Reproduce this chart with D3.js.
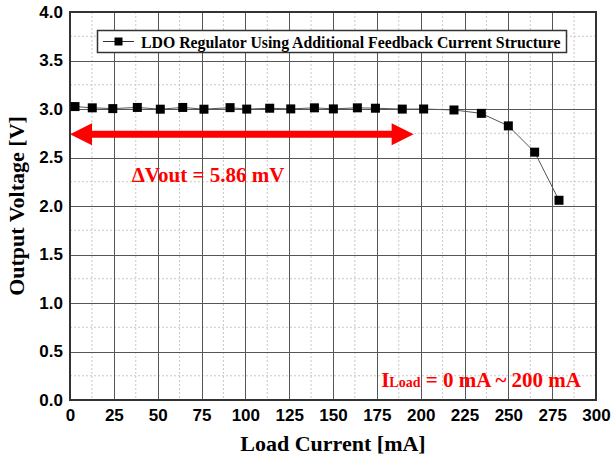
<!DOCTYPE html>
<html><head><meta charset="utf-8">
<script src="https://cdn.jsdelivr.net/npm/d3@7"></script>
<style>body{margin:0;background:#fff}svg{display:block}</style>
</head><body>
<svg id="c" width="611" height="460"></svg>
<script>
const loadCurrent = [2.85, 12.7, 24.4, 38.4, 51.5, 64.3, 76.4, 91.3, 100.8, 113.9, 125.9, 139.4, 150.2, 163.9, 174.2, 189.5, 201.7, 219.0, 234.6, 250.0, 265.0, 278.9];
const outputVoltage = [3.025, 3.012, 3.004, 3.016, 2.998, 3.016, 2.998, 3.014, 2.999, 3.008, 3.001, 3.012, 3.001, 3.012, 3.008, 2.999, 3.000, 2.990, 2.955, 2.826, 2.555, 2.059];
const xTicks = [0, 25, 50, 75, 100, 125, 150, 175, 200, 225, 250, 275, 300];
const yTicks = [0, 0.5, 1.0, 1.5, 2.0, 2.5, 3.0, 3.5, 4.0];
const seriesName = "LDO Regulator Using Additional Feedback Current Structure";
const arrowRange = [0, 196];
const arrowLevel = 2.74;

const svg = d3.select("#c");
const L = 70, R = 596, T = 12, B = 400;
const x = d3.scaleLinear().domain([0, 300]).range([L, R]);
const y = d3.scaleLinear().domain([0, 4]).range([B, T]);

// minor grid
const g = svg.append("g");
const xMinor = d3.range(12.5, 300, 25);
const yMinor = d3.range(0.25, 4, 0.5);
g.selectAll(".xm").data(xMinor).join("line")
  .attr("x1", d => x(d)).attr("x2", d => x(d)).attr("y1", T).attr("y2", B)
  .attr("stroke", "#c8c8c8").attr("stroke-width", 1).attr("stroke-dasharray", "2,2");
g.selectAll(".ym").data(yMinor).join("line")
  .attr("y1", d => y(d)).attr("y2", d => y(d)).attr("x1", L).attr("x2", R)
  .attr("stroke", "#c8c8c8").attr("stroke-width", 1).attr("stroke-dasharray", "2,2");
// major grid
g.selectAll(".xM").data(xTicks.slice(1, -1)).join("line")
  .attr("x1", d => Math.round(x(d)) + 0.5).attr("x2", d => Math.round(x(d)) + 0.5).attr("y1", T).attr("y2", B)
  .attr("stroke", "#555").attr("stroke-width", 1);
g.selectAll(".yM").data(yTicks.slice(1, -1)).join("line")
  .attr("y1", d => Math.round(y(d)) + 0.5).attr("y2", d => Math.round(y(d)) + 0.5).attr("x1", L).attr("x2", R)
  .attr("stroke", "#555").attr("stroke-width", 1);

// frame
svg.append("rect").attr("x", L).attr("y", T).attr("width", R - L).attr("height", B - T)
  .attr("fill", "none").attr("stroke", "#333").attr("stroke-width", 2);

// axes
const xAxis = d3.axisBottom(x).tickValues(xTicks).tickSize(0).tickPadding(9).tickFormat(d3.format("d"));
const yAxis = d3.axisLeft(y).tickValues(yTicks).tickSize(0).tickPadding(7).tickFormat(d3.format(".1f"));
const xa = svg.append("g").attr("transform", `translate(0,${B})`).call(xAxis);
const ya = svg.append("g").attr("transform", `translate(${L},0)`).call(yAxis);
[xa, ya].forEach(a => {
  a.select(".domain").remove();
  a.selectAll("text").attr("font-family", "Liberation Sans, Arial, sans-serif")
    .attr("font-weight", "bold").attr("font-size", 17).attr("fill", "#000");
});
xa.selectAll("text").attr("dy", "0.71em");

// axis titles
svg.append("text").attr("x", (L + R) / 2).attr("y", 451).attr("text-anchor", "middle")
  .attr("font-family", "Liberation Serif, Times New Roman, serif").attr("font-weight", "bold")
  .attr("font-size", 22).text("Load Current [mA]");
svg.append("text").attr("transform", `translate(24,${(T + B) / 2}) rotate(-90)`).attr("text-anchor", "middle")
  .attr("font-family", "Liberation Serif, Times New Roman, serif").attr("font-weight", "bold")
  .attr("font-size", 22).text("Output Voltage [V]");

// data line
const data = loadCurrent.map((c, i) => ({c, v: outputVoltage[i]}));
svg.append("path").datum(data)
  .attr("d", d3.line().x(d => x(d.c)).y(d => y(d.v)))
  .attr("fill", "none").attr("stroke", "#555").attr("stroke-width", 1);
svg.selectAll(".pt").data(data).join("rect")
  .attr("x", d => x(d.c) - 4.5).attr("y", d => y(d.v) - 4.5)
  .attr("width", 9).attr("height", 9).attr("fill", "#000");

// legend
const lg = svg.append("g");
lg.append("rect").attr("x", 97.5).attr("y", 30.5).attr("width", 469).attr("height", 22)
  .attr("fill", "#fff").attr("stroke", "#333").attr("stroke-width", 1.5);
lg.append("line").attr("x1", 103).attr("x2", 134).attr("y1", 41.5).attr("y2", 41.5)
  .attr("stroke", "#333").attr("stroke-width", 1);
lg.append("rect").attr("x", 114.5).attr("y", 37.5).attr("width", 8).attr("height", 8).attr("fill", "#000");
lg.append("text").attr("x", 141).attr("y", 47.5).attr("font-family", "Liberation Serif, Times New Roman, serif")
  .attr("font-weight", "bold").attr("font-size", 15.8).text(seriesName);

// red double arrow
const ax0 = x(arrowRange[0]), ax1 = x(arrowRange[1]), ay = y(arrowLevel);
const hl = 22, hh = 11, bh = 3.5;
svg.append("path").attr("d",
  `M${ax0},${ay} L${ax0 + hl},${ay - hh} L${ax0 + hl},${ay - bh} L${ax1 - hl},${ay - bh} L${ax1 - hl},${ay - hh} L${ax1},${ay} L${ax1 - hl},${ay + hh} L${ax1 - hl},${ay + bh} L${ax0 + hl},${ay + bh} L${ax0 + hl},${ay + hh} Z`)
  .attr("fill", "#ff0000");

// annotations
svg.append("text").attr("x", 208).attr("y", 182).attr("text-anchor", "middle")
  .attr("font-family", "Liberation Serif, Times New Roman, serif").attr("font-weight", "bold")
  .attr("font-size", 21).attr("fill", "#ff0000").text("ΔVout = 5.86 mV");
const t2 = svg.append("text").attr("x", 581).attr("y", 387).attr("text-anchor", "end")
  .attr("font-family", "Liberation Serif, Times New Roman, serif").attr("font-weight", "bold")
  .attr("font-size", 21).attr("fill", "#ff0000");
t2.append("tspan").text("I");
t2.append("tspan").attr("font-size", 14).text("Load");
t2.append("tspan").text(" = 0 mA ~ 200 mA");
</script>
</body></html>
